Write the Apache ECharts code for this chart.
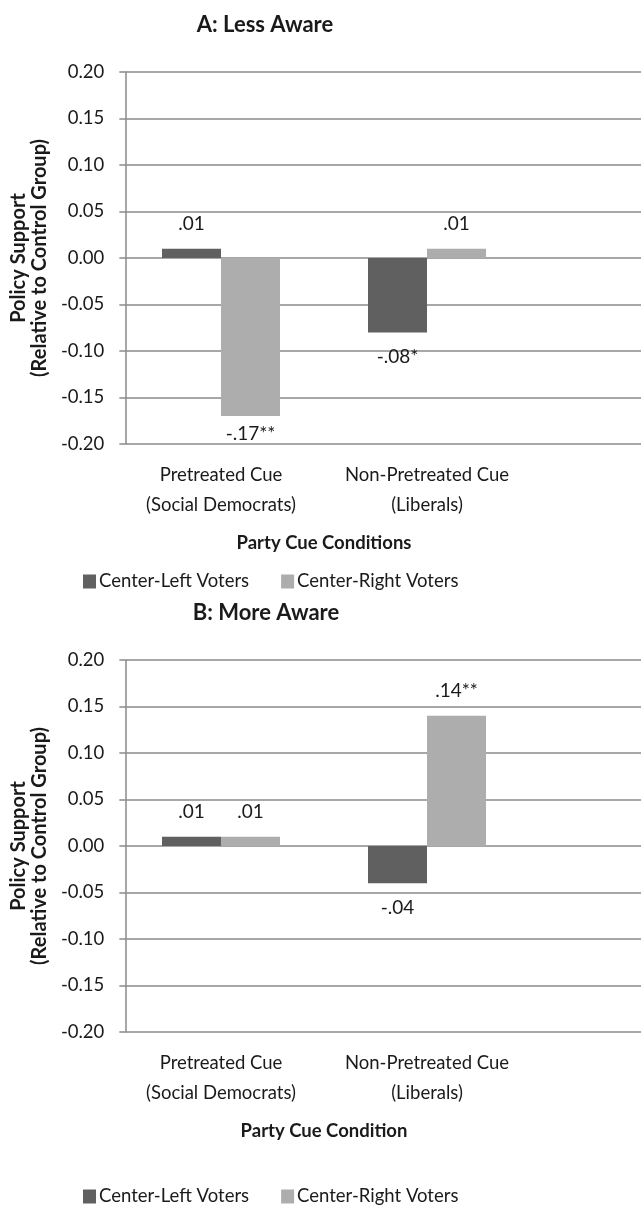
<!DOCTYPE html>
<html>
<head>
<meta charset="utf-8">
<script src="https://cdn.jsdelivr.net/npm/echarts@6/dist/echarts.min.js"></script>
<style>
  html, body { margin: 0; padding: 0; background: #fff; }
  #main { width: 641px; height: 1207px; }
</style>
</head>
<body>
<div id="main"></div>
<script>
// data
const categories = ['Pretreated Cue\n(Social Democrats)', 'Non-Pretreated Cue\n(Liberals)']
const seriesNames = ['Center-Left Voters', 'Center-Right Voters']
const lessLeft = [0.01, -0.08]
const lessRight = [-0.17, 0.01]
const moreLeft = [0.01, -0.04]
const moreRight = [0.01, 0.14]
const lessLeftLabels = ['.01', '-.08*']
const lessRightLabels = ['-.17**', '.01']
const moreLeftLabels = ['.01', '-.04']
const moreRightLabels = ['.01', '.14**']
const yMin = -0.2
const yMax = 0.2
const yStep = 0.05

const FONT = 'Lato'
const DARK = '#606060'
const LIGHT = '#adadad'
const LINE = '#8a8a8a'
const TEXT = '#1a1a1a'

function points (values, labels, tightIdx) {
  return values.map((v, i) => ({
    value: v,
    label: {
      position: v >= 0 ? 'top' : 'bottom',
      distance: i === tightIdx ? 8 : 15,
      formatter: labels[i]
    }
  }))
}

function panel (top) {
  // full width grid for gridlines, narrower grid for bars
  return [
    { left: 118, right: 0, top: top, height: 372 },
    { left: 118, width: 412, top: top, height: 372 }
  ]
}

function yAxes (gridIdx) {
  return [
    {
      type: 'value', gridIndex: gridIdx, min: yMin, max: yMax, interval: yStep,
      axisLine: { show: true, lineStyle: { color: LINE, width: 1.5 } },
      axisTick: { show: true, length: 6, lineStyle: { color: LINE, width: 1.5 } },
      splitLine: { lineStyle: { color: LINE, width: 1.5 } },
      axisLabel: { fontFamily: FONT, fontSize: 18.5, color: TEXT, margin: 21,
        formatter: v => v.toFixed(2) },
      name: 'Policy Support\n(Relative to Control Group)',
      nameLocation: 'middle', nameRotate: 90, nameGap: 63,
      nameTextStyle: { fontFamily: FONT, fontWeight: 'bold', fontSize: 20, color: TEXT, lineHeight: 21 }
    },
    { type: 'value', gridIndex: gridIdx + 1, min: yMin, max: yMax, interval: yStep, show: false, splitLine: { show: false } }
  ]
}

function xAxes (gridIdx, title) {
  return [
    { type: 'category', gridIndex: gridIdx, data: [''], show: false },
    {
      type: 'category', gridIndex: gridIdx + 1, data: categories,
      axisLine: { show: false }, axisTick: { show: false },
      axisLabel: { interval: 0, fontFamily: FONT, fontSize: 18.5, color: TEXT, lineHeight: 30, margin: 16 },
      name: title, nameLocation: 'middle', nameGap: 90,
      nameTextStyle: { fontFamily: FONT, fontWeight: 'bold', fontSize: 18.5, color: TEXT }
    }
  ]
}

function bars (name, color, axisIdx, data) {
  return {
    name: name, type: 'bar', xAxisIndex: axisIdx, yAxisIndex: axisIdx,
    barWidth: 59, barGap: '0%',
    itemStyle: { color: color },
    label: { show: true, fontFamily: FONT, fontSize: 19, color: TEXT },
    data: data
  }
}

function legend (top) {
  return {
    data: seriesNames, left: 83, top: top, padding: 0, icon: 'rect',
    itemWidth: 13, itemHeight: 14, itemGap: 32,
    textStyle: { fontFamily: FONT, fontSize: 18.5, color: TEXT, padding: [0, 0, 0, -2] }
  }
}

const option = {
  animation: false,
  graphic: [
    { type: 'text', x: 265, y: 25, style: { text: 'A: Less Aware', textAlign: 'center', textVerticalAlign: 'middle', font: 'bold 22px Lato', fill: TEXT } },
    { type: 'text', x: 266, y: 613, style: { text: 'B: More Aware', textAlign: 'center', textVerticalAlign: 'middle', font: 'bold 22px Lato', fill: TEXT } }
  ],
  legend: [legend(572), legend(1187)],
  grid: [...panel(72), ...panel(660)],
  yAxis: [...yAxes(0), ...yAxes(2)],
  xAxis: [...xAxes(0, 'Party Cue Conditions'), ...xAxes(2, 'Party Cue Condition')],
  series: [
    bars(seriesNames[0], DARK, 1, points(lessLeft, lessLeftLabels, -1)),
    bars(seriesNames[1], LIGHT, 1, points(lessRight, lessRightLabels, 0)),
    bars(seriesNames[0], DARK, 3, points(moreLeft, moreLeftLabels, -1)),
    bars(seriesNames[1], LIGHT, 3, points(moreRight, moreRightLabels, -1))
  ]
}

const chart = echarts.init(document.getElementById('main'))
chart.setOption(option)
</script>
</body>
</html>
